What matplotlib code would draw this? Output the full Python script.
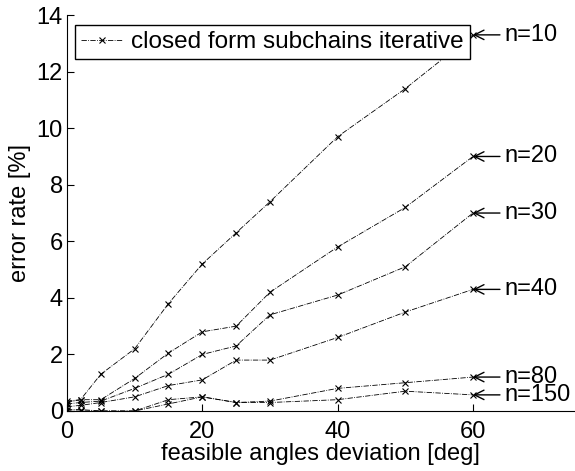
import matplotlib
matplotlib.use("Agg")
import matplotlib.pyplot as plt

plt.rcParams['font.family'] = ['Liberation Sans', 'DejaVu Sans']

x = [0, 2, 5, 10, 15, 20, 25, 30, 40, 50, 60]
labels = ["n=10", "n=20", "n=30", "n=40", "n=80", "n=150"]
y_n10 = [0.35, 0.4, 1.3, 2.2, 3.8, 5.2, 6.3, 7.4, 9.7, 11.4, 13.3]
y_n20 = [0.3, 0.4, 0.4, 1.15, 2.05, 2.8, 3.0, 4.2, 5.8, 7.2, 9.0]
y_n30 = [0.25, 0.3, 0.35, 0.8, 1.3, 2.0, 2.3, 3.4, 4.1, 5.1, 7.0]
y_n40 = [0.15, 0.2, 0.3, 0.5, 0.9, 1.1, 1.8, 1.8, 2.6, 3.5, 4.3]
y_n80 = [0.05, 0.05, 0.0, 0.0, 0.4, 0.5, 0.3, 0.35, 0.8, 1.0, 1.2]
y_n150 = [0.0, 0.0, 0.0, 0.0, 0.25, 0.5, 0.3, 0.3, 0.4, 0.7, 0.57]
series = [y_n10, y_n20, y_n30, y_n40, y_n80, y_n150]
legend_label = "closed form subchains iterative"

FS = 17

fig = plt.figure(figsize=(5.75, 4.71), dpi=100)
ax = fig.add_axes([0.1165, 0.1274, 0.8826, 0.8406])

for i, ys in enumerate(series):
    ax.plot(x, ys, linestyle='-.', color='black', linewidth=0.6,
            marker='x', markersize=5, markeredgewidth=0.8,
            label=legend_label if i == 0 else None)
    ax.annotate(labels[i], xy=(x[-1], ys[-1]), xytext=(64.6, ys[-1]),
                ha='left', va='center', fontsize=FS,
                arrowprops=dict(arrowstyle='->', color='black', lw=1.0,
                                shrinkA=1, shrinkB=0))

ax.set_xlim(0, 75)
ax.set_ylim(0, 14)
ax.set_xticks([0, 20, 40, 60])
ax.set_yticks(range(0, 15, 2))
ax.tick_params(direction='in', length=5, labelsize=FS, width=0.8)
ax.tick_params(axis='x', pad=7)
ax.tick_params(axis='y', pad=3)
ax.spines['top'].set_visible(False)
ax.spines['right'].set_visible(False)
ax.set_xlabel('feasible angles deviation [deg]', fontsize=FS, labelpad=0)
ax.set_ylabel('error rate [%]', fontsize=FS, labelpad=4)

leg = ax.legend(loc='upper left', bbox_to_anchor=(0.0158, 0.975), fontsize=17.5,
                frameon=True, fancybox=False, handlelength=1.7,
                handletextpad=0.35, borderpad=0.25, borderaxespad=0)
leg.get_frame().set_edgecolor('black')
leg.get_frame().set_linewidth(1.0)
leg.get_frame().set_alpha(1)

fig.savefig('out.png', dpi=100)
